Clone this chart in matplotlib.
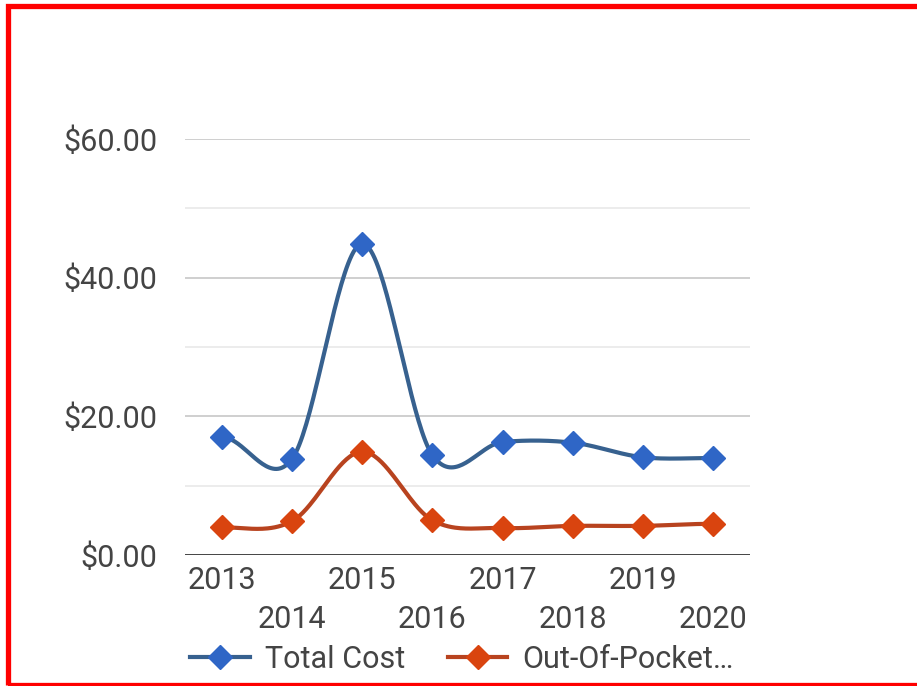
import numpy as np
import matplotlib
matplotlib.use("Agg")
import matplotlib.pyplot as plt
from matplotlib.lines import Line2D
from matplotlib.patches import Rectangle

years = [2013, 2014, 2015, 2016, 2017, 2018, 2019, 2020]
total_cost = [17.0, 13.9, 44.9, 14.4, 16.3, 16.2, 14.1, 14.0]
out_of_pocket = [4.0, 4.9, 14.9, 5.0, 3.9, 4.2, 4.2, 4.5]
y_ticks = [0, 20, 40, 60]
y_tick_labels = ["$0.00", "$20.00", "$40.00", "$60.00"]
series_names = ["Total Cost", "Out-Of-Pocket\u2026"]

plt.rcParams['font.family'] = ['Roboto', 'DejaVu Sans']
TXT = '#444444'
BLUE_L, BLUE_M = '#37618f', '#2f66c6'
ORG_L, ORG_M = '#b8431f', '#d9440f'
FS = 22


def smooth(xs, ys, n=40):
    xs = np.asarray(xs, float)
    ys = np.asarray(ys, float)
    m = np.zeros_like(ys)
    m[1:-1] = (ys[2:] - ys[:-2]) / (xs[2:] - xs[:-2])
    ox, oy = [], []
    for i in range(len(xs) - 1):
        h = xs[i + 1] - xs[i]
        t = np.linspace(0, 1, n, endpoint=(i == len(xs) - 2))
        h00 = 2 * t**3 - 3 * t**2 + 1
        h10 = t**3 - 2 * t**2 + t
        h01 = -2 * t**3 + 3 * t**2
        h11 = t**3 - t**2
        ox.append(xs[i] + t * h)
        oy.append(h00 * ys[i] + h10 * h * m[i] + h01 * ys[i + 1] + h11 * h * m[i + 1])
    return np.concatenate(ox), np.concatenate(oy)


fig = plt.figure(figsize=(9.17, 6.86), dpi=100)
ax = fig.add_axes([185 / 917, 1 - 555 / 686, 565 / 917, 416 / 686])

for v in [10, 30, 50]:
    ax.axhline(v, color='#ebebeb', lw=1.3, zorder=0)
for v in [20, 40, 60]:
    ax.axhline(v, color='#cccccc', lw=1.3, zorder=0)
ax.axhline(0, color='#333333', lw=2.0, zorder=1)

for vals, lc, mc in [(total_cost, BLUE_L, BLUE_M), (out_of_pocket, ORG_L, ORG_M)]:
    sx, sy = smooth(years, vals)
    ax.plot(sx, sy, color=lc, lw=3, zorder=3, solid_capstyle='round')
    ax.plot(years, vals, linestyle='none', marker='D', markersize=12,
            color=mc, markeredgecolor=mc, zorder=4, clip_on=False)

ax.set_xlim(2012.47, 2020.53)
ax.set_ylim(0, 60)
ax.set_yticks(y_ticks)
ax.set_yticklabels(y_tick_labels)
ax.set_xticks(years)
ax.set_xticklabels([str(y) if i % 2 == 0 else "\n" + str(y) for i, y in enumerate(years)])
for lab in ax.get_xticklabels():
    lab.set_linespacing(1.45)
ax.tick_params(axis='both', length=0, labelsize=FS, colors=TXT)
ax.tick_params(axis='y', pad=20)
ax.tick_params(axis='x', pad=8)
for s in ax.spines.values():
    s.set_visible(False)

handles = [
    Line2D([], [], color=BLUE_L, lw=3, marker='D', markersize=12, markerfacecolor=BLUE_M, markeredgecolor=BLUE_M),
    Line2D([], [], color=ORG_L, lw=3, marker='D', markersize=12, markerfacecolor=ORG_M, markeredgecolor=ORG_M),
]
leg = fig.legend(handles, series_names, loc='center left', bbox_to_anchor=(190 / 917, 1 - 659 / 686),
                 ncol=2, frameon=False, fontsize=FS, handlelength=1.95, handletextpad=0.5,
                 columnspacing=1.4, borderpad=0, borderaxespad=0)
for t in leg.get_texts():
    t.set_color(TXT)

fig.add_artist(Rectangle((7.5 / 917, 1 - 684.5 / 686), 1.05, (684.5 - 5.5) / 686,
                         transform=fig.transFigure, fill=False, edgecolor='#ff0000', lw=3.8,
                         clip_on=False))

fig.savefig('out.png', dpi=100)
